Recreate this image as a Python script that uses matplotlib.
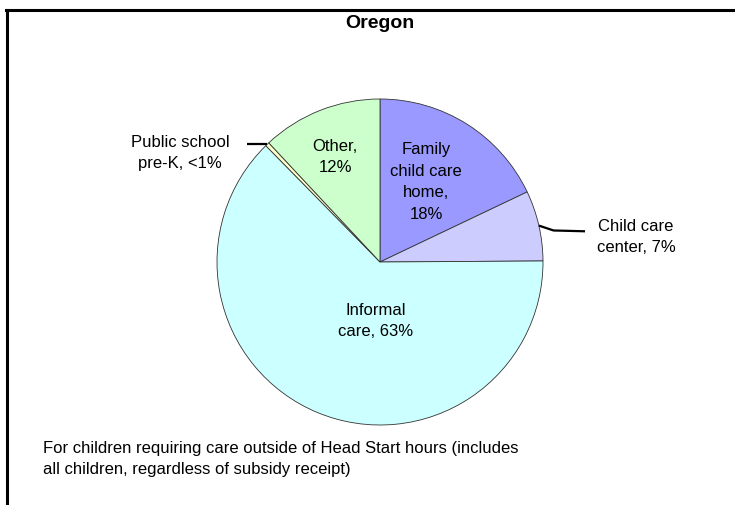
import matplotlib
matplotlib.use("Agg")
import matplotlib.pyplot as plt
from matplotlib.lines import Line2D
import numpy as np

plt.rcParams.update({
    "font.family": ["Liberation Sans", "DejaVu Sans"],
    "font.size": 12,
})

# ── data ──────────────────────────────────────────────────────────────
labels = ["Family\nchild care\nhome,\n18%", "Child care\ncenter, 7%",
          "Informal\ncare, 63%", "Public school\npre-K, <1%", "Other,\n12%"]
shares = [18, 7, 63, 0.4, 12]
colors = ["#9999FF", "#CCCCFF", "#CCFFFF", "#FFFFCC", "#CCFFCC"]

W, H = 735, 506
fig = plt.figure(figsize=(W / 100, H / 100), dpi=100)

# pie centre (380, 263) px, radius 163 px
cx, cy, r = 380, 263, 163
ax = fig.add_axes([(cx - r) / W, (H - cy - r) / H, 2 * r / W, 2 * r / H])
wedges, _ = ax.pie(shares, colors=colors, startangle=90, counterclock=False,
                   radius=1.0, wedgeprops=dict(edgecolor="#333333", linewidth=0.6))
ax.set_xlim(-1, 1); ax.set_ylim(-1, 1); ax.axis("off")

def px(x, y):
    return ((x - cx) / r, (cy - y) / r)

LS = 1.58

# inside labels
ax.text(*px(426, 182), labels[0], ha="center", va="center", linespacing=LS)
ax.text(*px(335, 157), labels[4], ha="center", va="center", linespacing=LS)
ax.text(*px(376, 321), labels[2], ha="center", va="center", linespacing=LS)

# outside labels with leaders
def edge_pt(w):
    t = np.deg2rad((w.theta1 + w.theta2) / 2)
    return np.cos(t), np.sin(t)

ex, ey = edge_pt(wedges[1])
ax.plot([ex, ex + 0.09, 1.258], [ey, ey - 0.03, ey - 0.035], color="black",
        lw=1.6, clip_on=False, solid_capstyle="butt")
ax.text(*px(636, 237), labels[1], ha="center", va="center", linespacing=LS)

ex, ey = edge_pt(wedges[3])
ax.plot([ex, -0.816], [ey, ey], color="black", lw=1.6, clip_on=False,
        solid_capstyle="butt")
ax.text(*px(180, 153), labels[3], ha="center", va="center", linespacing=LS)

# title and footnote
fig.text(cx / W, 1 - 24 / H, "Oregon", ha="center", va="center",
         fontsize=14, fontweight="bold")
fig.text(43 / W, 1 - 459 / H,
         "For children requiring care outside of Head Start hours (includes\n"
         "all children, regardless of subsidy receipt)",
         ha="left", va="center", linespacing=1.45)

# chart frame (clipped at right and bottom)
fig.add_artist(Line2D([7 / W, 7 / W], [0, 1 - 11 / H], color="black", lw=2.2,
                      transform=fig.transFigure))
fig.add_artist(Line2D([6 / W, 1], [1 - 11 / H, 1 - 11 / H], color="black", lw=2.2,
                      transform=fig.transFigure))

fig.savefig("out.png", dpi=100)
